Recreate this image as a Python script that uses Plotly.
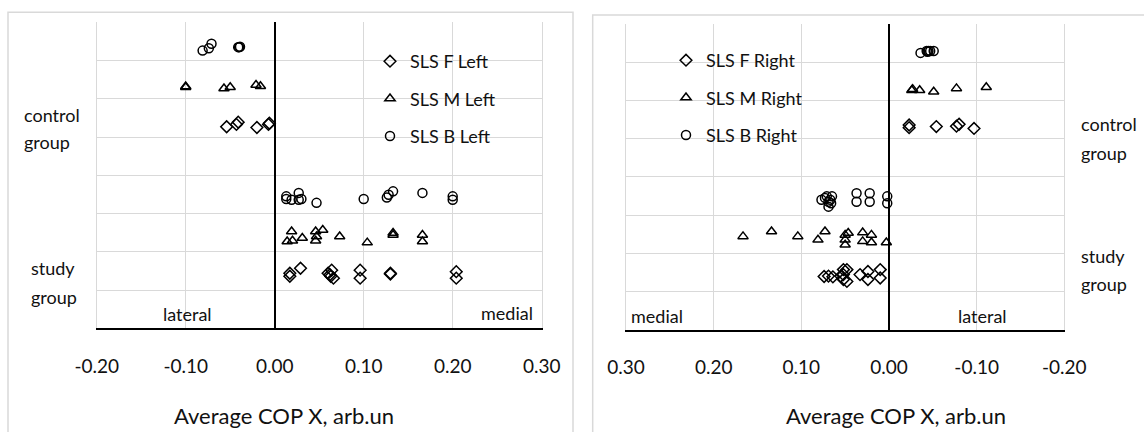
import plotly.graph_objects as go

W, H = 1144, 432
FONT = "Lato"
TXT = "#111111"
GRID = "#d9d9d9"

# ---------------- data ----------------
x_ticks = [-0.2, -0.1, 0.0, 0.1, 0.2, 0.3]
x_tick_text = ["-0.20", "-0.10", "0.00", "0.10", "0.20", "0.30"]

left_names = ["SLS F Left", "SLS M Left", "SLS B Left"]
right_names = ["SLS F Right", "SLS M Right", "SLS B Right"]

left_F_x = [-0.054, -0.043, -0.041, -0.020, -0.007, -0.006, 0.017, 0.017, 0.029, 0.060,
            0.062, 0.064, 0.066, 0.063, 0.096, 0.096, 0.130, 0.130, 0.204, 0.204]
left_F_y = [5.27, 5.33, 5.39, 5.25, 5.33, 5.36, 1.44, 1.36, 1.57, 1.44,
            1.40, 1.52, 1.31, 1.36, 1.52, 1.31, 1.44, 1.42, 1.48, 1.31]

left_M_x = [-0.100, -0.100, -0.057, -0.050, -0.021, -0.016, 0.014, 0.019, 0.020, 0.031,
            0.046, 0.046, 0.047, 0.054, 0.073, 0.104, 0.133, 0.133, 0.166, 0.166]
left_M_y = [6.32, 6.30, 6.27, 6.30, 6.36, 6.33, 2.27, 2.53, 2.29, 2.36,
            2.53, 2.29, 2.40, 2.57, 2.40, 2.24, 2.49, 2.44, 2.44, 2.27]

left_B_x = [-0.081, -0.074, -0.071, -0.041, -0.040, -0.039, 0.013, 0.013, 0.019, 0.027,
            0.027, 0.030, 0.047, 0.100, 0.126, 0.128, 0.133, 0.166, 0.200, 0.200]
left_B_y = [7.26, 7.32, 7.44, 7.35, 7.35, 7.36, 3.45, 3.38, 3.36, 3.54,
            3.36, 3.38, 3.28, 3.38, 3.42, 3.49, 3.58, 3.54, 3.45, 3.36]

right_F_x = [-0.023, -0.023, -0.054, -0.077, -0.080, -0.097, 0.074, 0.069, 0.064, 0.055,
             0.052, 0.052, 0.052, 0.048, 0.048, 0.033, 0.024, 0.024, 0.010, 0.010]
right_F_y = [5.36, 5.29, 5.32, 5.33, 5.38, 5.27, 1.39, 1.40, 1.38, 1.40,
             1.57, 1.44, 1.31, 1.57, 1.26, 1.44, 1.52, 1.31, 1.57, 1.35]

right_M_x = [-0.026, -0.027, -0.035, -0.051, -0.077, -0.111, 0.1665, 0.134, 0.104, 0.081,
             0.073, 0.050, 0.050, 0.050, 0.0465, 0.030, 0.030, 0.020, 0.020, 0.003]
right_M_y = [6.27, 6.30, 6.27, 6.23, 6.32, 6.35, 2.44, 2.57, 2.44, 2.35,
             2.57, 2.48, 2.35, 2.22, 2.53, 2.54, 2.31, 2.48, 2.28, 2.28]

right_B_x = [-0.036, -0.043, -0.045, -0.051, -0.044, -0.047, 0.077, 0.073, 0.071, 0.069,
             0.069, 0.067, 0.066, 0.065, 0.037, 0.037, 0.022, 0.022, 0.002, 0.002]
right_B_y = [7.25, 7.30, 7.30, 7.30, 7.28, 7.30, 3.40, 3.45, 3.49, 3.35,
             3.22, 3.40, 3.31, 3.49, 3.57, 3.35, 3.57, 3.35, 3.49, 3.31]

symbols = ["diamond-open", "triangle-up-open", "circle-open"]
sizes = [9, 9, 9]


def px(x):
    return x / W


def py(y):
    return 1 - y / H


fig = go.Figure()

left_series = [(left_F_x, left_F_y), (left_M_x, left_M_y), (left_B_x, left_B_y)]
right_series = [(right_F_x, right_F_y), (right_M_x, right_M_y), (right_B_x, right_B_y)]

for i, (xs, ys) in enumerate(left_series):
    fig.add_trace(go.Scatter(
        x=xs, y=ys, mode="markers", name=left_names[i], xaxis="x", yaxis="y",
        legend="legend", legendgroup="L%d" % i,
        marker=dict(symbol=symbols[i], size=sizes[i], color="black",
                    line=dict(color="black", width=1.5)),
    ))
for i, (xs, ys) in enumerate(right_series):
    fig.add_trace(go.Scatter(
        x=xs, y=ys, mode="markers", name=right_names[i], xaxis="x2", yaxis="y2",
        legend="legend2", legendgroup="R%d" % i,
        marker=dict(symbol=symbols[i], size=sizes[i], color="black",
                    line=dict(color="black", width=1.5)),
    ))

xa_common = dict(
    tickvals=x_ticks, ticktext=x_tick_text, showgrid=True, gridcolor=GRID, gridwidth=1.3,
    zeroline=True, zerolinecolor="black", zerolinewidth=2,
    showline=True, linecolor="black", linewidth=2, ticks="", automargin=False,
    tickfont=dict(family=FONT, size=19, color=TXT), ticklabelstandoff=20,
)
ya_common = dict(
    range=[0, 8], dtick=1, tick0=0, showticklabels=False, showgrid=True, gridcolor=GRID,
    gridwidth=1.3, zeroline=False, showline=True, linecolor=GRID, linewidth=1.3, mirror=True,
    automargin=False,
)

fig.update_layout(
    width=W, height=H, margin=dict(l=0, r=0, t=0, b=0, pad=0, autoexpand=False),
    paper_bgcolor="white", plot_bgcolor="white",
    font=dict(family=FONT, color=TXT),
    xaxis=dict(domain=[px(96.7), px(541.7)], range=[-0.2, 0.3], anchor="y", **xa_common),
    yaxis=dict(domain=[py(328.3), py(22.3)], anchor="x", **ya_common),
    xaxis2=dict(domain=[px(626), px(1064.3)], range=[0.3, -0.2], anchor="y2", **xa_common),
    yaxis2=dict(domain=[py(329.5), py(24.3)], anchor="x2", **ya_common),
    legend=dict(x=px(370), y=py(43), xanchor="left", yanchor="top",
                font=dict(family=FONT, size=18, color=TXT), bgcolor="rgba(0,0,0,0)",
                tracegroupgap=11, itemclick=False),
    legend2=dict(x=px(666), y=py(42), xanchor="left", yanchor="top",
                 font=dict(family=FONT, size=18, color=TXT), bgcolor="rgba(0,0,0,0)",
                 tracegroupgap=11, itemclick=False),
    shapes=[
        dict(type="rect", xref="paper", yref="paper", x0=px(8), x1=px(573), y0=-0.2, y1=py(12.3),
             line=dict(color=GRID, width=1.5), fillcolor="rgba(0,0,0,0)", layer="below"),
        dict(type="rect", xref="paper", yref="paper", x0=px(592.7), x1=1.05, y0=-0.2, y1=py(15),
             line=dict(color=GRID, width=1.5), fillcolor="rgba(0,0,0,0)", layer="below"),
    ],
)

ann = []


def label(text, x, y, xanchor="left", size=18):
    ann.append(dict(text=text, x=px(x), y=py(y), xref="paper", yref="paper",
                    xanchor=xanchor, yanchor="middle", showarrow=False,
                    font=dict(family=FONT, size=size, color=TXT)))


# side group labels
label("control", 22, 115)
label("group", 22, 142)
label("study", 29, 268)
label("group", 29, 297)
label("control", 1079, 124)
label("group", 1079, 152.5)
label("study", 1079, 256)
label("group", 1079, 283.5)
# direction labels
label("lateral", 188, 314, "center")
label("medial", 507, 313, "center")
label("medial", 657, 316, "center")
label("lateral", 982, 316, "center")
# axis titles
label("Average COP X, arb.un", 283.6, 415, "center", 22)
label("Average COP X, arb.un", 896, 415, "center", 22)

fig.update_layout(annotations=ann)

fig.write_html(
    "out.html",
    config={"displayModeBar": False},
    post_script="document.body.style.margin='0';document.body.style.padding='0';"
                "document.documentElement.style.overflow='hidden';",
)
